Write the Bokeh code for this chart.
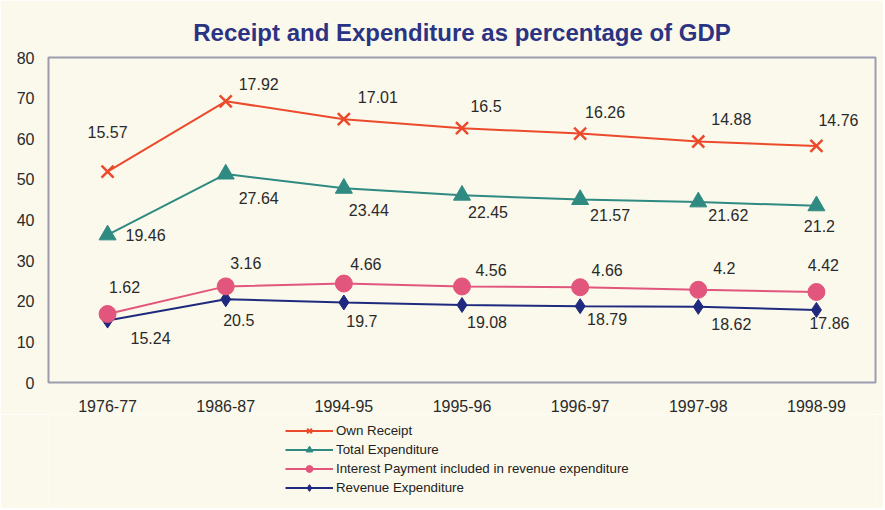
import numpy as np
from bokeh.plotting import figure
from bokeh.layouts import column
from bokeh.models import ColumnDataSource, Legend, LegendItem, FixedTicker, Range1d
from bokeh.embed import file_html
from bokeh.resources import INLINE

# ---- data (values as printed on the chart; series are stacked) ----
years = ["1976-77", "1986-87", "1994-95", "1995-96", "1996-97", "1997-98", "1998-99"]
revenue_expenditure = [15.24, 20.5, 19.7, 19.08, 18.79, 18.62, 17.86]
interest_payment = [1.62, 3.16, 4.66, 4.56, 4.66, 4.2, 4.42]
total_expenditure = [19.46, 27.64, 23.44, 22.45, 21.57, 21.62, 21.2]
own_receipt = [15.57, 17.92, 17.01, 16.5, 16.26, 14.88, 14.76]
y_ticks = [0, 10, 20, 30, 40, 50, 60, 70, 80]

series_names = ["Revenue Expenditure",
                "Interest Payment included in revenue expenditure",
                "Total Expenditure", "Own Receipt"]
series_values = [revenue_expenditure, interest_payment, total_expenditure, own_receipt]

# ---- style / layout ----
BG = "#fbf9ec"
FONT = "Liberation Sans"
colors = ["#1f2a7e", "#e2557c", "#2f8a82", "#ec4a2c"]
markers = ["diamond", "circle", "triangle", "x"]
msizes = [15, 17, 17, 17]
# label offsets in screen px (dx, dy) per point
label_dx = [
    [43, 13, 18, 25, 27, 33, 13],
    [17, 20, 22, 29, 27, 26, 7],
    [38, 33, 25, 26, 30, 30, 3],
    [0, 33, 34, 24, 25, 33, 22],
]
label_dy = [
    [17, 21, 19, 17, 13, 17, 13],
    [-27, -23, -20, -16, -17, -22, -27],
    [0, 24, 22, 17, 15, 13, 20],
    [-40, -17, -22, -22, -22, -23, -26],
]

W = 883
p = figure(x_range=years, y_range=Range1d(0, 80),
           width=W, height=414,
           output_backend="svg", toolbar_location=None,
           min_border_left=48, min_border_top=57, min_border_right=8,
           min_border_bottom=30,
           background_fill_color=BG, border_fill_color=BG)
p.x_range.range_padding = 0

p.title.text = "Receipt and Expenditure as percentage of GDP"
p.title.align = "center"
p.title.text_font = FONT
p.title.text_font_size = "24px"
p.title.text_font_style = "bold"
p.title.text_color = "#2b3383"
p.title.standoff = 23

p.outline_line_color = "#9c9cae"
p.outline_line_width = 2
p.xgrid.visible = False
p.ygrid.visible = False

for ax in (p.xaxis[0], p.yaxis[0]):
    ax.axis_line_color = None
    ax.major_tick_line_color = None
    ax.minor_tick_line_color = None
    ax.major_label_text_font = FONT
    ax.major_label_text_font_size = "16px"
    ax.major_label_text_color = "#2a2a2a"
p.yaxis.ticker = FixedTicker(ticks=y_ticks)
p.yaxis.major_label_standoff = 8
p.xaxis.major_label_standoff = 11

stack = np.cumsum(np.array(series_values), axis=0)
for i, name in enumerate(series_names):
    src = ColumnDataSource(dict(x=years, y=stack[i], lab=[str(v) for v in series_values[i]],
                                dx=label_dx[i], dy=label_dy[i]))
    p.line("x", "y", source=src, line_color=colors[i], line_width=2)
    p.scatter("x", "y", source=src, marker=markers[i], size=msizes[i],
              fill_color=colors[i], line_color=colors[i],
              line_width=2.5 if markers[i] == "x" else 1)
    p.text("x", "y", text="lab", source=src, x_offset="dx", y_offset="dy",
           text_align="center", text_baseline="middle", text_font_size="16px",
           text_color="#2a2a2a", text_font={"value": FONT})

# ---- legend strip below the chart (placeholder renderers hold only NaN) ----
lg = figure(width=W, height=94, x_range=Range1d(0, 1), y_range=Range1d(0, 1),
            output_backend="svg", toolbar_location=None,
            x_axis_type=None, y_axis_type=None,
            min_border_left=0, min_border_right=0, min_border_top=0, min_border_bottom=0,
            background_fill_color=BG, border_fill_color=BG, outline_line_color=None)
lg.xgrid.visible = False
lg.ygrid.visible = False
items = []
for i, name in enumerate(series_names):
    ph = ColumnDataSource(dict(x=[np.nan], y=[np.nan]))
    ln = lg.line("x", "y", source=ph, line_color=colors[i], line_width=2)
    sc = lg.scatter("x", "y", source=ph, marker=markers[i], size=msizes[i] * 0.62,
                    fill_color=colors[i], line_color=colors[i],
                    line_width=2 if markers[i] == "x" else 1)
    items.append(LegendItem(label=name, renderers=[ln, sc]))

legend = Legend(items=items[::-1], location=(237, 12), orientation="vertical",
                label_text_font=FONT, label_text_font_size="13.3px",
                label_text_color="#222222", glyph_width=48, glyph_height=17,
                spacing=2, label_standoff=3, padding=0, margin=0,
                border_line_color=None, background_fill_alpha=0)
lg.add_layout(legend, "center")

layout = column(p, lg, spacing=0)
open("out.html", "w").write(file_html(layout, INLINE))
